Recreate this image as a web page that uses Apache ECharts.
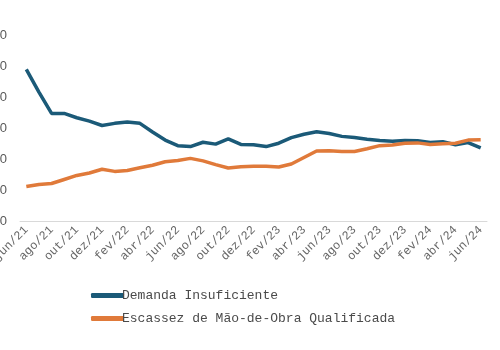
<!DOCTYPE html>
<html><head><meta charset="utf-8">
<script src="https://cdn.jsdelivr.net/npm/echarts@6/dist/echarts.min.js"></script>
<style>html,body{margin:0;padding:0;background:#fff}#c{width:500px;height:350px}</style>
</head><body><div id="c"></div>
<script>
const categories = ['jun/21','jul/21','ago/21','set/21','out/21','nov/21','dez/21','jan/22','fev/22','mar/22','abr/22','mai/22','jun/22','jul/22','ago/22','set/22','out/22','nov/22','dez/22','jan/23','fev/23','mar/23','abr/23','mai/23','jun/23','jul/23','ago/23','set/23','out/23','nov/23','dez/23','jan/24','fev/24','mar/24','abr/24','mai/24','jun/24'];
const demanda = [48.9,41.6,34.7,34.7,33.3,32.2,30.8,31.5,31.9,31.5,28.7,26.1,24.3,24.0,25.4,24.8,26.5,24.7,24.6,24.0,25.1,26.9,28.0,28.8,28.2,27.3,26.9,26.4,26.0,25.7,26.0,25.9,25.3,25.6,24.6,25.3,23.6];
const escassez = [11.1,11.8,12.1,13.4,14.7,15.5,16.7,16.0,16.3,17.2,18.0,19.1,19.5,20.2,19.4,18.2,17.1,17.5,17.7,17.7,17.4,18.4,20.5,22.6,22.7,22.4,22.4,23.3,24.3,24.5,25.1,25.2,24.7,24.9,25.1,26.1,26.2];
const seriesNames = ['Demanda Insuficiente','Escassez de Mão-de-Obra Qualificada'];
const yTicks = {min:0, max:60, interval:10};

const chart = echarts.init(document.getElementById('c'));
chart.setOption({
  animation:false,
  grid:{left:20,right:13,top:35,bottom:129,containLabel:false,outerBoundsMode:'none'},
  legend:{
    orient:'vertical', left:86, top:284, itemGap:10,
    icon:'roundRect', itemWidth:33, itemHeight:5,
    textStyle:{fontFamily:'Liberation Mono', fontSize:13, color:'#4a4a4a', padding:[0,0,0,-7]},
    data:seriesNames
  },
  xAxis:{
    type:'category', data:categories, boundaryGap:true,
    axisLine:{lineStyle:{color:'#d9d9d9'}},
    axisTick:{interval:1, length:5, lineStyle:{color:'#d9d9d9'}},
    axisLabel:{interval:1, rotate:45, fontFamily:'Liberation Mono', fontSize:12, color:'#666666', margin:7}
  },
  yAxis:{
    type:'value', min:yTicks.min, max:yTicks.max, interval:yTicks.interval,
    axisLine:{show:false}, axisTick:{show:false}, splitLine:{show:false},
    axisLabel:{fontFamily:'Liberation Sans', fontSize:13, color:'#595959', margin:13}
  },
  series:[
    {name:seriesNames[0], type:'line', data:demanda, showSymbol:false, lineStyle:{width:3.5,color:'#1b5a78'}, itemStyle:{color:'#1b5a78'}},
    {name:seriesNames[1], type:'line', data:escassez, showSymbol:false, lineStyle:{width:3.5,color:'#e07a3a'}, itemStyle:{color:'#e07a3a'}}
  ]
});
</script></body></html>
